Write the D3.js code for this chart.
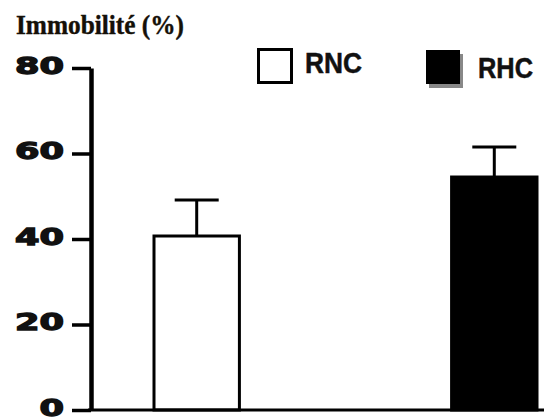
<!DOCTYPE html>
<html>
<head>
<meta charset="utf-8">
<script src="https://cdn.jsdelivr.net/npm/d3@7"></script>
<style>
  html, body { margin: 0; padding: 0; background: #fff; }
  svg { display: block; }
  .tick text { font-family: "DejaVu Sans", sans-serif; font-weight: bold; }
</style>
</head>
<body>
<svg id="chart" width="544" height="419"></svg>
<script>
const groups = ["RNC", "vide", "RHC"];
const means = [40.7, 0, 54.5];
const errors = [8.4, 0, 7.0];
const fills = ["#fff", "#fff", "#000"];
const yTicks = [0, 20, 40, 60, 80];
const legendItems = ["RNC", "RHC"];

const width = 544;
const height = 419;
const svg = d3.select("#chart");

const rows = groups.map((g, i) => ({ group: g, mean: means[i], err: errors[i], fill: fills[i] }));

const y = d3.scaleLinear().domain([0, 80]).range([410, 68]);
const x = d3.scaleBand().domain(groups).range([154, 537]).paddingInner(0.426).paddingOuter(0);

// titre de l'axe
svg.append("text")
  .attr("x", 16)
  .attr("y", 34)
  .attr("font-family", "Liberation Serif, serif")
  .attr("font-weight", "bold")
  .attr("font-size", 27)
  .attr("fill", "#151008")
  .attr("stroke", "#151008")
  .attr("stroke-width", 0.4)
  .attr("textLength", 168)
  .attr("lengthAdjust", "spacingAndGlyphs")
  .text("Immobilité (%)");

// barres
svg.selectAll(".bar")
  .data(rows)
  .join("rect")
  .attr("class", "bar")
  .attr("x", (d) => x(d.group))
  .attr("y", (d) => y(d.mean))
  .attr("width", x.bandwidth())
  .attr("height", (d) => y(0) - y(d.mean))
  .attr("fill", (d) => d.fill)
  .attr("stroke", (d) => d.mean > 0 ? "#000" : "#444")
  .attr("stroke-width", (d) => d.mean > 0 ? 3 : 2);

// barres d'erreur
const withErr = rows.filter((d) => d.err > 0);
svg.selectAll(".err")
  .data(withErr)
  .join("line")
  .attr("class", "err")
  .attr("x1", (d) => x(d.group) + x.bandwidth() / 2)
  .attr("x2", (d) => x(d.group) + x.bandwidth() / 2)
  .attr("y1", (d) => y(d.mean))
  .attr("y2", (d) => y(d.mean + d.err))
  .attr("stroke", "#000")
  .attr("stroke-width", 3);

svg.selectAll(".cap")
  .data(withErr)
  .join("line")
  .attr("class", "cap")
  .attr("x1", (d) => x(d.group) + x.bandwidth() / 2 - 22)
  .attr("x2", (d) => x(d.group) + x.bandwidth() / 2 + 22)
  .attr("y1", (d) => y(d.mean + d.err))
  .attr("y2", (d) => y(d.mean + d.err))
  .attr("stroke", "#000")
  .attr("stroke-width", 3);

// axe x (simple trait)
svg.append("line")
  .attr("x1", 88)
  .attr("x2", width)
  .attr("y1", y(0))
  .attr("y2", y(0))
  .attr("stroke", "#000")
  .attr("stroke-width", 3);

// axe y
const yAxis = svg.append("g")
  .attr("transform", "translate(91,0)")
  .call(d3.axisLeft(y).tickValues(yTicks).tickSize(19).tickSizeOuter(0).tickPadding(8));

yAxis.select(".domain").attr("stroke", "#000").attr("stroke-width", 4.5);
yAxis.selectAll(".tick line").attr("stroke", "#000").attr("stroke-width", 3.5);
yAxis.selectAll(".tick text")
  .attr("fill", "#111")
  .attr("stroke", "#111")
  .attr("stroke-width", 1.3)
  .attr("font-size", 23)
  .attr("dy", "0.22em")
  .attr("textLength", (d) => String(d).length * 24.5)
  .attr("lengthAdjust", "spacingAndGlyphs");

// légende
const legendBoxes = [
  { x: 258.5, y: 49.5, size: 33, fill: "#fff" },
  { x: 426, y: 50, size: 34, fill: "#000" }
];
const legendText = [
  { x: 305, y: 73, len: 57 },
  { x: 478, y: 78, len: 55 }
];

svg.append("rect")
  .attr("x", legendBoxes[1].x + 3)
  .attr("y", legendBoxes[1].y + 4)
  .attr("width", legendBoxes[1].size)
  .attr("height", legendBoxes[1].size)
  .attr("fill", "#888");

legendItems.forEach((name, i) => {
  const b = legendBoxes[i];
  svg.append("rect")
    .attr("x", b.x)
    .attr("y", b.y)
    .attr("width", b.size)
    .attr("height", b.size)
    .attr("fill", b.fill)
    .attr("stroke", "#000")
    .attr("stroke-width", i === 0 ? 3 : 0);

  const t = legendText[i];
  svg.append("text")
    .attr("x", t.x)
    .attr("y", t.y)
    .attr("font-family", "Liberation Sans, Arial, sans-serif")
    .attr("font-weight", "bold")
    .attr("font-size", 29)
    .attr("fill", "#111")
    .attr("stroke", "#111")
    .attr("stroke-width", 0.5)
    .attr("textLength", t.len)
    .attr("lengthAdjust", "spacingAndGlyphs")
    .text(name);
});
</script>
</body>
</html>
